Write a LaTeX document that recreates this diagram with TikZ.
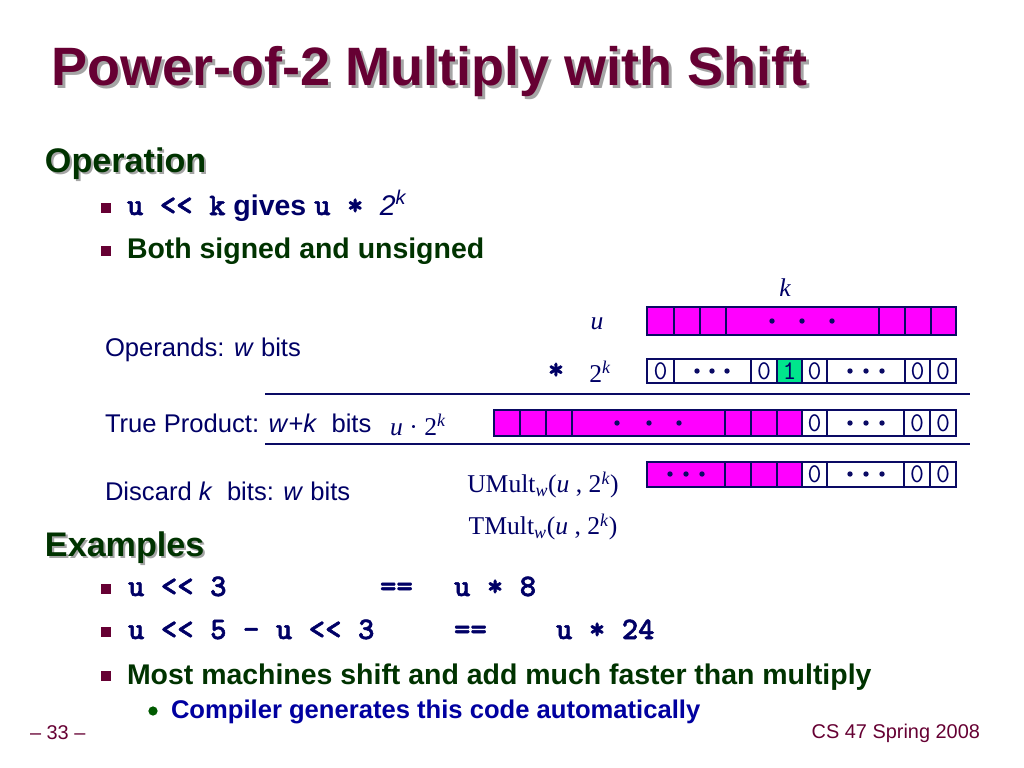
\documentclass[tikz,border=0pt]{standalone}
\usepackage{fontspec}
\setmainfont{Liberation Sans}
\newfontfamily\timesfont{Liberation Serif}
\newfontfamily\codefont{lmmonolt10-bold}[Extension=.otf,FakeBold=1.6]
\definecolor{titlered}{RGB}{102,0,51}
\definecolor{shadowgray}{RGB}{165,165,165}
\definecolor{headgreen}{RGB}{0,51,0}
\definecolor{navytext}{RGB}{0,0,102}
\definecolor{boxnavy}{RGB}{10,10,100}
\definecolor{bitmag}{RGB}{255,0,255}
\definecolor{bitgreen}{RGB}{0,230,140}
\definecolor{subblue}{RGB}{0,0,160}
\definecolor{subgreen}{RGB}{0,90,0}
\begin{document}
\begin{tikzpicture}[x=0.703pt,y=-0.703pt,inner sep=0pt,outer sep=0pt,
titletext/.style={font=\fontsize{38}{44}\selectfont\bfseries,anchor=base west},
headtext/.style={font=\fontsize{24}{28}\selectfont\bfseries,anchor=base west},
bullettext/.style={font=\fontsize{20}{24}\selectfont\bfseries,text=headgreen,anchor=base west},
codetext/.style={font=\fontsize{22}{24}\selectfont\codefont,text=navytext,anchor=base west},
sidelabel/.style={font=\fontsize{18}{22}\selectfont,text=navytext,anchor=base west},
mathlabel/.style={font=\fontsize{18}{22}\selectfont\timesfont,text=navytext},
footer/.style={font=\fontsize{14}{16}\selectfont,text=titlered},
sqbullet/.style={fill=titlered,minimum size=7.5pt},
bitcell/.style={draw=boxnavy,line width=2.1pt},
bitdigit/.style={font=\fontsize{19}{20}\selectfont\ttfamily,text=navytext},
sepline/.style={draw=boxnavy,line width=2.1pt}]
\fill[white] (0,0) rectangle (1024,768);
\useasboundingbox (0,0) rectangle (1024,768);

\draw (54,88) node[titletext,text=shadowgray] (titleshadow) {Power-of-2 Multiply with Shift};
\draw (51,85) node[titletext,text=titlered] (title) {Power-of-2 Multiply with Shift};

\draw (47,174) node[headtext,text=shadowgray] (opshadow) {Operation};
\draw (45,172) node[headtext,text=headgreen] (ophead) {Operation};
\draw (106,208) node[sqbullet] (sq1) {};
\draw (127,215) node[bullettext,text=navytext] (shiftline) {{\codefont\fontsize{22}{24}\selectfont u << k} gives {\codefont\fontsize{22}{24}\selectfont u * }{\mdseries\itshape 2\textsuperscript{k}}};
\draw (106,251) node[sqbullet] (sq2) {};
\draw (127,258) node[bullettext] (bothline) {Both signed and unsigned};

\draw (105,356) node[sidelabel] (operands) {Operands: \textit{w} bits};
\draw (105,432) node[sidelabel] (trueprod) {True Product: \textit{w}+\textit{k}\ \ bits};
\draw (105,500) node[sidelabel] (discard) {Discard \textit{k}\ \ bits: \textit{w} bits};

\draw (785,288) node[mathlabel] (klabel) {\itshape k};
\draw (597,324) node[mathlabel] (ulabel) {\itshape u};
\draw (556,371) node[codetext,anchor=center] (timeslabel) {*};
\draw (600,372) node[mathlabel] (twoklabel) {2\textsuperscript{\itshape k}};
\draw (418,425) node[mathlabel] (prodlabel) {\itshape u \upshape· 2\textsuperscript{\itshape k}};
\draw (543,485) node[mathlabel] (umultlabel) {UMult\textsubscript{\itshape w}(\textit{u} , 2\textsuperscript{\itshape k})};
\draw (543,527) node[mathlabel] (tmultlabel) {TMult\textsubscript{\itshape w}(\textit{u} , 2\textsuperscript{\itshape k})};

\foreach \a/\b in {647/674,674/700,700/726,726/879,879/905,905/931,931/956}
  \draw[bitcell,fill=bitmag] (\a,307) rectangle (\b,335);
\foreach \a/\b/\c/\d in {647/674/white/0,674/751/white/{},751/777/white/0,777/802/bitgreen/1,802/827/white/0,827/905/white/{},905/930/white/0,930/956/white/0}
  \draw[bitcell,fill=\c] (\a,359) rectangle (\b,383) node[midway,bitdigit] (pow\a) {\d};
\draw[sepline] (265,394) -- (970,394);
\foreach \a/\b/\c/\d in {494/520/bitmag/{},520/546/bitmag/{},546/572/bitmag/{},572/725/bitmag/{},725/751/bitmag/{},751/777/bitmag/{},777/802/bitmag/{},802/827/white/0,827/904/white/{},904/930/white/0,930/956/white/0}
  \draw[bitcell,fill=\c] (\a,410) rectangle (\b,436) node[midway,bitdigit] (prod\a) {\d};
\draw[sepline] (265,444) -- (970,444);
\foreach \a/\b/\c/\d in {647/725/bitmag/{},725/751/bitmag/{},751/777/bitmag/{},777/802/bitmag/{},802/827/white/0,827/904/white/{},904/930/white/0,930/956/white/0}
  \draw[bitcell,fill=\c] (\a,462) rectangle (\b,487) node[midway,bitdigit] (umult\a) {\d};
\foreach \px/\py in {772/321,802/321,832/321,697/371,712/371,727/371,850/371,866/371,882/371,
  617/423,649/423,679/423,850/423,866/423,882/423,670/474,686/474,702/474,850/474,866/474,882/474}
  \fill[boxnavy] (\px,\py) circle (1.9pt);

\draw (47,558) node[headtext,text=shadowgray] (exshadow) {Examples};
\draw (45,556) node[headtext,text=headgreen] (exhead) {Examples};
\draw (106,589) node[sqbullet] (sq3) {};
\draw (128,596) node[codetext] (ex1a) {u << 3};
\draw (380,596) node[codetext] (ex1b) {==};
\draw (454,596) node[codetext] (ex1c) {u * 8};
\draw (106,632) node[sqbullet] (sq4) {};
\draw (128,639) node[codetext] (ex2a) {u << 5 - u << 3};
\draw (454,639) node[codetext] (ex2b) {==};
\draw (556,639) node[codetext] (ex2c) {u * 24};
\draw (106,676) node[sqbullet] (sq5) {};
\draw (127,684) node[bullettext] (fastline) {Most machines shift and add much faster than multiply};
\draw (153,711) node[circle,fill=subgreen,minimum size=6.5pt] (dot1) {};
\draw (171,718) node[bullettext,font=\fontsize{18}{22}\selectfont\bfseries,text=subblue] (compline) {Compiler generates this code automatically};

\draw (30,739) node[footer,anchor=base west] (pagenum) {– 33 –};
\draw (980,738) node[footer,anchor=base east] (course) {CS 47 Spring 2008};
\end{tikzpicture}
\end{document}
